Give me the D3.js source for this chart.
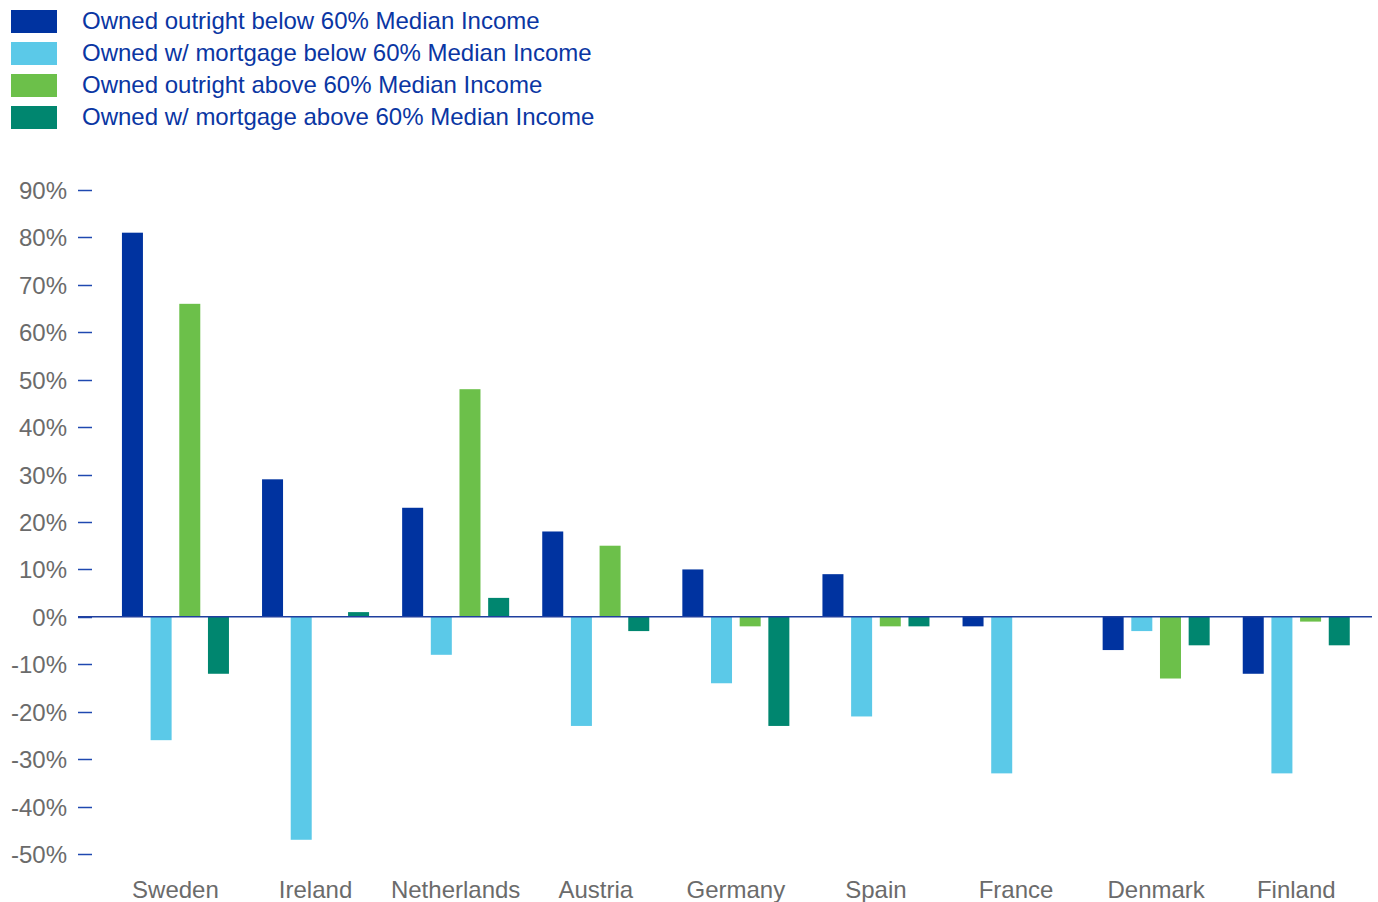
<!DOCTYPE html>
<html>
<head>
<meta charset="utf-8">
<script src="https://cdn.jsdelivr.net/npm/d3@7"></script>
<style>
  body { margin: 0; background: #fff; }
  text { font-family: "Liberation Sans", Arial, sans-serif; }
</style>
</head>
<body>
<div id="chart"></div>
<script>
// data
var countries = ["Sweden", "Ireland", "Netherlands", "Austria", "Germany", "Spain", "France", "Denmark", "Finland"];
var seriesNames = [
  "Owned outright below 60% Median Income",
  "Owned w/ mortgage below 60% Median Income",
  "Owned outright above 60% Median Income",
  "Owned w/ mortgage above 60% Median Income"
];
var outrightBelow  = [81, 29, 23, 18, 10, 9, -2, -7, -12];
var mortgageBelow  = [-26, -47, -8, -23, -14, -21, -33, -3, -33];
var outrightAbove  = [66, 0, 48, 15, -2, -2, 0, -13, -1];
var mortgageAbove  = [-12, 1, 4, -3, -23, -2, 0, -6, -6];
var yTicks = [90, 80, 70, 60, 50, 40, 30, 20, 10, 0, -10, -20, -30, -40, -50];

var colors = ["#0033a0", "#5bc9e8", "#6cc04a", "#00866f"];
var seriesVals = [outrightBelow, mortgageBelow, outrightAbove, mortgageAbove];

var W = 1378, H = 902;
var svg = d3.select("#chart").append("svg").attr("width", W).attr("height", H);

var x = d3.scaleBand().domain(countries).range([105.4, 1366.3]).paddingInner(0).paddingOuter(0);
var xi = d3.scaleBand().domain(d3.range(4)).range([0, x.bandwidth()]).paddingInner(0.2675).paddingOuter(0.577);
var y = d3.scaleLinear().domain([-50, 90]).range([854, 190]);

// y axis ticks + labels
var yAxis = svg.append("g");
yAxis.selectAll("line").data(yTicks).enter().append("line")
  .attr("x1", 78).attr("x2", 92)
  .attr("y1", function(d){ return Math.round(y(d)) + 0.5; })
  .attr("y2", function(d){ return Math.round(y(d)) + 0.5; })
  .style("stroke", "#1f48b0").style("stroke-width", 1.5);
yAxis.selectAll("text").data(yTicks).enter().append("text")
  .attr("x", 67).attr("y", function(d){ return y(d) + 9; })
  .attr("text-anchor", "end")
  .style("font-size", "24px").style("fill", "#6b6b6b")
  .text(function(d){ return d + "%"; });

// bars
var groups = svg.append("g").selectAll("g").data(countries).enter().append("g")
  .attr("transform", function(d){ return "translate(" + x(d) + ",0)"; });
groups.selectAll("rect").data(function(d, ci){
    return seriesVals.map(function(s, si){ return {si: si, v: s[ci]}; });
  }).enter().append("rect")
  .attr("x", function(d){ return xi(d.si); })
  .attr("width", xi.bandwidth())
  .attr("y", function(d){ return y(Math.max(0, d.v)); })
  .attr("height", function(d){ return Math.abs(y(d.v) - y(0)); })
  .style("fill", function(d){ return colors[d.si]; });

// zero line
svg.append("line")
  .attr("x1", 78).attr("x2", 1372)
  .attr("y1", y(0)).attr("y2", y(0))
  .style("stroke", "#1f3f9e").style("stroke-width", 1.5);

// category labels
svg.append("g").selectAll("text").data(countries).enter().append("text")
  .attr("x", function(d){ return x(d) + x.bandwidth() / 2; })
  .attr("y", 898)
  .attr("text-anchor", "middle")
  .style("font-size", "24px").style("fill", "#6b6b6b")
  .text(function(d){ return d; });

// legend
var legend = svg.append("g").selectAll("g").data(seriesNames).enter().append("g")
  .attr("transform", function(d, i){ return "translate(11," + (10 + i * 32) + ")"; });
legend.append("rect").attr("width", 46).attr("height", 23)
  .style("fill", function(d, i){ return colors[i]; });
legend.append("text").attr("x", 71).attr("y", 19)
  .style("font-size", "24px").style("fill", "#0a36a3")
  .text(function(d){ return d; });
</script>
</body>
</html>
